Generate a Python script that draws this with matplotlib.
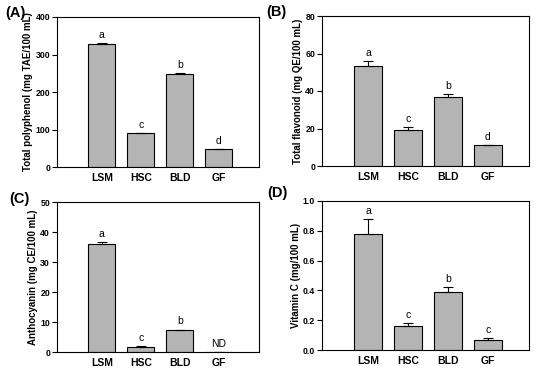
import matplotlib
matplotlib.use('Agg')
import matplotlib.pyplot as plt
import numpy as np

plt.rcParams['font.family'] = ['Liberation Sans', 'DejaVu Sans']

samples = ['LSM', 'HSC', 'BLD', 'GF']

polyphenol = [327, 90, 249, 47]
polyphenol_err = [3, 2, 3, 1]
polyphenol_sig = ['a', 'c', 'b', 'd']

flavonoid = [53.5, 19, 37, 11]
flavonoid_err = [2.5, 1.8, 1.3, 0.4]
flavonoid_sig = ['a', 'c', 'b', 'd']

anthocyanin = [36, 1.8, 7.2, 0]
anthocyanin_err = [0.6, 0.1, 0.3, 0]
anthocyanin_sig = ['a', 'c', 'b', 'ND']

vitc = [0.78, 0.16, 0.39, 0.07]
vitc_err = [0.10, 0.02, 0.03, 0.01]
vitc_sig = ['a', 'c', 'b', 'c']

panels = [
    ('(A)', polyphenol, polyphenol_err, polyphenol_sig, 'Total polyphenol (mg TAE/100 mL)', 400, 100, '%d'),
    ('(B)', flavonoid, flavonoid_err, flavonoid_sig, 'Total flavonoid (mg QE/100 mL)', 80, 20, '%d'),
    ('(C)', anthocyanin, anthocyanin_err, anthocyanin_sig, 'Anthocyanin (mg CE/100 mL)', 50, 10, '%d'),
    ('(D)', vitc, vitc_err, vitc_sig, 'Vitamin C (mg/100 mL)', 1.0, 0.2, '%.1f'),
]

fig = plt.figure(figsize=(5.4, 3.73), dpi=100)
W, H = 540, 373
boxes = [(57, 17, 259, 167), (322, 16, 529, 166), (57, 202, 259, 352), (322, 201, 529, 350)]
label_pos = [(5, 13), (266, 12), (9, 199), (267, 193)]

x = np.arange(len(samples))
for (lab, vals, errs, sig, ylab, ymax, step, fmt), (l, t, r, b), (lx, ly) in zip(panels, boxes, label_pos):
    ax = fig.add_axes([l / W, 1 - b / H, (r - l) / W, (b - t) / H])
    ax.bar(x, vals, width=0.7, color='#b4b4b4', edgecolor='black', linewidth=0.8)
    ax.errorbar(x, vals, yerr=[np.zeros(len(errs)), errs], fmt='none', ecolor='black',
                elinewidth=0.8, capsize=3.5, capthick=0.8)
    for xi, v, e, s in zip(x, vals, errs, sig):
        ax.text(xi, v + e + ymax * 0.02, s, ha='center', va='bottom', fontsize=7.5)
    ax.set_xlim(-1.15, 4.03)
    ax.set_ylim(0, ymax)
    ax.set_yticks(np.arange(0, ymax + step / 2, step))
    ax.yaxis.set_major_formatter(matplotlib.ticker.FormatStrFormatter(fmt))
    ax.set_xticks(x)
    ax.set_xticklabels(samples, fontweight='bold', fontsize=7.5)
    ax.tick_params(axis='x', length=0, pad=4)
    ax.tick_params(axis='y', length=3.5, width=0.8, labelsize=6.3, pad=1.5)
    for lbl in ax.get_yticklabels():
        lbl.set_fontweight('bold')
    ax.set_ylabel(ylab, fontweight='bold', fontsize=7, labelpad=1.5)
    for sp in ax.spines.values():
        sp.set_linewidth(0.8)
    fig.text(lx / W, 1 - ly / H, lab, fontsize=10.5, fontweight='bold', ha='left', va='center')

fig.savefig('out.png', dpi=100)
